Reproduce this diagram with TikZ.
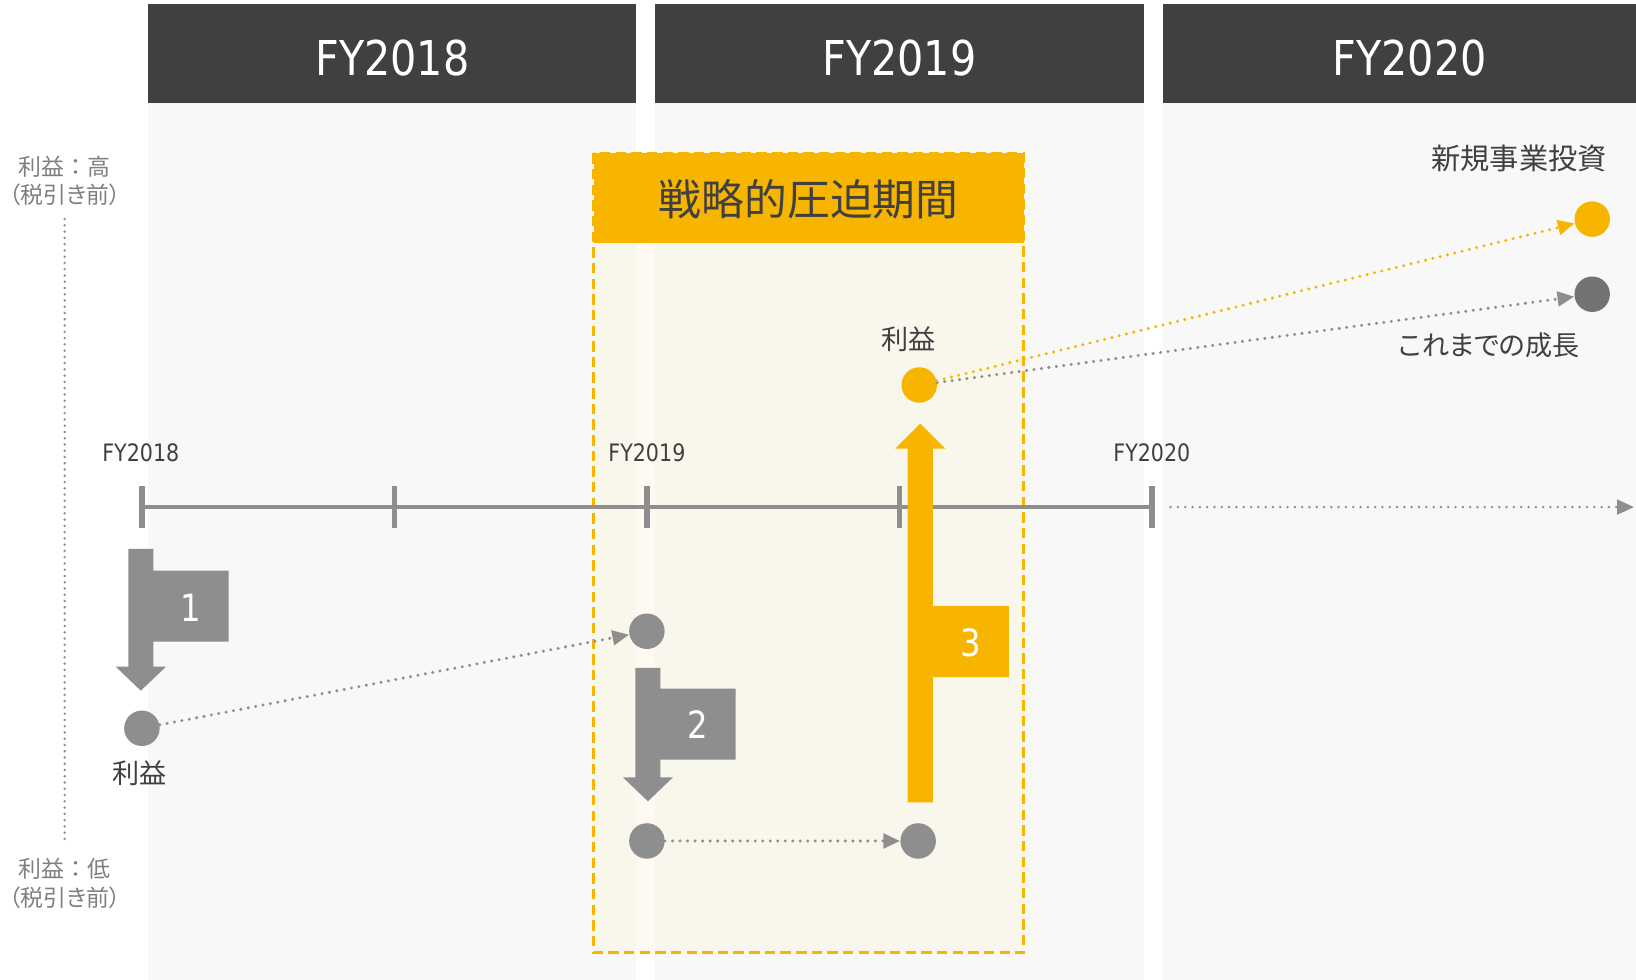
\documentclass[tikz,border=0pt]{standalone}
\usepackage{fontspec}
\setmainfont{DejaVu Sans}[FakeStretch=0.86]
\newfontfamily\lat{DejaVu Sans}[FakeStretch=0.86]
\newfontfamily\jp{Noto Sans CJK JP}[RawFeature=+palt]
\newfontfamily\jpf{Noto Sans CJK JP}
\usetikzlibrary{arrows.meta}
\definecolor{hdr}{HTML}{404040}
\definecolor{colbg}{HTML}{F8F8F8}
\definecolor{gr}{HTML}{8E8E8E}
\definecolor{dgr}{HTML}{737373}
\definecolor{yel}{HTML}{F7B500}
\definecolor{txt}{HTML}{404040}
\definecolor{side}{HTML}{7F7F7F}
\definecolor{cream}{HTML}{F9F7EC}
\definecolor{creamgap}{HTML}{FFFAF1}
\tikzset{
  hdrtext/.style={text=white, font={\lat\fontsize{23pt}{27pt}\selectfont}, anchor=base, inner sep=0},
  fylab/.style={text=txt, font={\lat\fontsize{11.5pt}{14pt}\selectfont}, inner sep=0},
  sidelab/.style={text=side, font={\fontsize{11pt}{13pt}\selectfont}, inner sep=0},
  jlab/.style={text=txt, font={\jp\fontsize{13pt}{15pt}\selectfont}, inner sep=0},
  numlab/.style={text=white, font={\lat\fontsize{18pt}{21pt}\selectfont}, inner sep=0},
  pt/.style={circle, inner sep=0, minimum size=17pt, fill=gr},
  dotline/.style={line width=1.6pt, line cap=round, dash pattern=on 0pt off 3.6pt},
  arr/.style={-{Triangle[length=8pt,width=7pt]}},
}
\begin{document}
\begin{tikzpicture}[x=0.5pt, y=-0.5pt]
\useasboundingbox (0,0) rectangle (1568,939);
% columns
\fill[colbg] (142,99) rectangle (610,939);
\fill[colbg] (628,99) rectangle (1096,939);
\fill[colbg] (1115,99) rectangle (1568,939);
\fill[hdr] (142,4) rectangle (610,99);
\fill[hdr] (628,4) rectangle (1096,99);
\fill[hdr] (1115,4) rectangle (1568,99);
\node[hdrtext] (h1) at (376,72) {FY2018};
\node[hdrtext] (h2) at (862,72) {FY2019};
\node[hdrtext] (h3) at (1351,72) {FY2020};
% strategic period box
\fill[cream] (569,147) rectangle (981,913);
\fill[creamgap] (610,147) rectangle (628,913);
\draw[yel, line width=1.5pt, dash pattern=on 5pt off 2.5pt] (569,147) rectangle (981,913);
\fill[yel] (569,147) rectangle (981,233);
\node[text=txt, font={\jpf\fontsize{20.5pt}{24pt}\selectfont}, inner sep=0] (title) at (775,191) {戦略的圧迫期間};
% side axis
\node[sidelab, font={\jpf\fontsize{11pt}{13pt}\selectfont}] (hi1) at (62,160) {利益：高};
\node[sidelab, font={\jp\fontsize{11pt}{13pt}\selectfont}] (hi2) at (62,187) {（税引き前）};
\node[sidelab, font={\jpf\fontsize{11pt}{13pt}\selectfont}] (lo1) at (62,833) {利益：低};
\node[sidelab, font={\jp\fontsize{11pt}{13pt}\selectfont}] (lo2) at (62,860) {（税引き前）};
\coordinate (vtop) at (62,210);
\coordinate (vbot) at (62,805);
\draw[gr, line width=1.3pt, line cap=round, dash pattern=on 0pt off 3pt] (vtop) -- (vbot);
% timeline
\coordinate (t0) at (136,486);
\coordinate (t4) at (1104,486);
\draw[gr, line width=2.2pt] (t0) -- (t4);
\foreach \x in {136,378,620,862,1104} \draw[gr, line width=2.5pt] (\x,466) -- (\x,506);
\node[fylab] (l18) at (135,434) {FY2018};
\node[fylab] (l19) at (620,434) {FY2019};
\node[fylab] (l20) at (1104,434) {FY2020};
\coordinate (e0) at (1122,486);
\coordinate (e1) at (1566,486);
\draw[gr, line width=1.3pt, line cap=round, dash pattern=on 0pt off 3.5pt, arr] (e0) -- (e1);
% flag arrows
\fill[gr] (123,526) -- (147,526) -- (147,547) -- (219,547) -- (219,615) -- (147,615) -- (147,639) -- (159,639) -- (135,662) -- (111,639) -- (123,639) -- cycle;
\node[numlab] (n1) at (183,583) {1};
\fill[gr] (609,640) -- (633,640) -- (633,660) -- (705,660) -- (705,728) -- (633,728) -- (633,745) -- (645,745) -- (621,768) -- (597,745) -- (609,745) -- cycle;
\node[numlab] (n2) at (669,694) {2};
\fill[yel] (870,769) -- (870,430) -- (858,430) -- (882,406) -- (906,430) -- (894,430) -- (894,581) -- (967,581) -- (967,649) -- (894,649) -- (894,769) -- cycle;
\node[numlab] (n3) at (930,616) {3};
% points
\node[pt] (c1) at (136,698) {};
\node[pt] (c2) at (620,605) {};
\node[pt] (c3) at (620,806) {};
\node[pt] (c4) at (880,806) {};
\node[pt, fill=yel] (c5) at (881,369) {};
\node[pt, fill=yel] (y1) at (1526,210) {};
\node[pt, fill=dgr] (g1) at (1526,282) {};
% labels
\node[jlab] (p1) at (134,741) {利益};
\node[jlab] (p2) at (871,325) {利益};
\node[jlab, font={\jp\fontsize{14pt}{16pt}\selectfont}] (new) at (1456,152) {新規事業投資};
\node[jlab] (old) at (1427,331) {これまでの成長};
% connectors
\draw[gr, dotline, arr] (c1) -- (c2);
\draw[gr, dotline, arr] (c3) -- (c4);
\draw[gr, dotline, arr] (c5) -- (g1);
\draw[yel, dotline, arr] (c5) -- (y1);
\end{tikzpicture}
\end{document}
